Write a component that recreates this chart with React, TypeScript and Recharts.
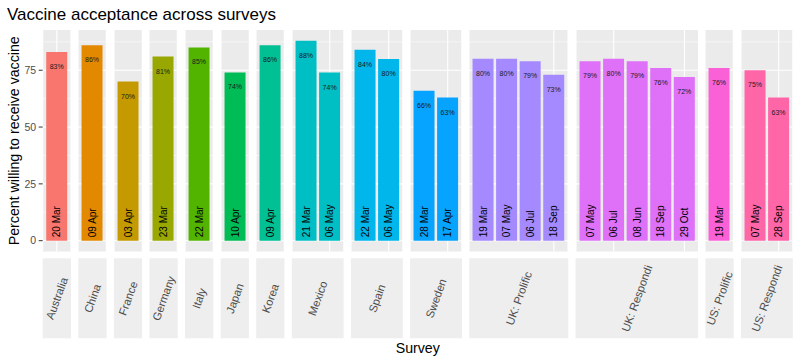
import { Bar, BarChart, CartesianGrid, LabelList, XAxis, YAxis } from 'recharts';

const surveys = [
  'Australia', 'China', 'France', 'Germany', 'Italy', 'Japan', 'Korea',
  'Mexico', 'Spain', 'Sweden', 'UK: Prolific', 'UK: Respondi', 'US: Prolific', 'US: Respondi',
];

const surveyDates: string[][] = [
  ['20 Mar'],
  ['09 Apr'],
  ['03 Apr'],
  ['23 Mar'],
  ['22 Mar'],
  ['10 Apr'],
  ['09 Apr'],
  ['21 Mar', '06 May'],
  ['22 Mar', '06 May'],
  ['28 Mar', '17 Apr'],
  ['19 Mar', '07 May', '06 Jul', '18 Sep'],
  ['07 May', '06 Jul', '08 Jun', '18 Sep', '29 Oct'],
  ['19 Mar'],
  ['07 May', '28 Sep'],
];

const acceptance: number[][] = [
  [83],
  [86],
  [70],
  [81],
  [85],
  [74],
  [86],
  [88, 74],
  [84, 80],
  [66, 63],
  [80, 80, 79, 73],
  [79, 80, 79, 76, 72],
  [76],
  [75, 63],
];

const yTicks = [0, 25, 50, 75];
const yMinor = [12.5, 37.5, 62.5, 87.5];

// ggplot hue palette, 14 levels
const palette = [
  '#F8766D', '#E38900', '#C49A00', '#99A800', '#53B400', '#00BC56', '#00C094',
  '#00BFC4', '#00B6EB', '#06A4FF', '#A58AFF', '#DF70F8', '#FB61D7', '#FF66A8',
];

const PANEL_LEFT = 42.7;
const PANEL_TOP = 30;
const PANEL_H = 221.5;
const UNIT = 23.57;
const GAP = 7.3;
const STRIP_TOP = 258.3;
const STRIP_H = 80;
const Y_DOMAIN: [number, number] = [-4.75, 92.7];
const FONT = '"Liberation Sans", Arial, sans-serif';

const widths = surveyDates.map((d) => (d.length + 0.2) * UNIT);
const lefts = widths.map((_, i) => PANEL_LEFT + widths.slice(0, i).reduce((s, w) => s + w + GAP, 0));

const PctLabel = (props: any) => {
  const { x, y, width, value } = props;
  return (
    <text
      x={x + width / 2}
      y={y + 14.5}
      textAnchor="middle"
      dominantBaseline="central"
      fontSize={7}
      fill="#1a1a1a"
      fontFamily={FONT}
    >
      {Math.round(value)}%
    </text>
  );
};

const DateLabel = (props: any) => {
  const { x, y, width, height, value } = props;
  const cx = x + width / 2;
  const by = y + height - 3.5;
  return (
    <text
      transform={`translate(${cx},${by}) rotate(-90)`}
      textAnchor="start"
      dominantBaseline="central"
      fontSize={10}
      fill="#000"
      fontFamily={FONT}
    >
      {value}
    </text>
  );
};

function Facet({ idx }: { idx: number }) {
  const data = surveyDates[idx].map((date, i) => ({ date, value: acceptance[idx][i] }));
  const axis = idx === 0;
  const pad = 0.1 * UNIT;
  return (
    <div style={{ position: 'absolute', left: axis ? 0 : lefts[idx], top: PANEL_TOP }}>
      <BarChart
        width={widths[idx] + (axis ? PANEL_LEFT : 0)}
        height={PANEL_H}
        data={data}
        margin={{ top: 0, right: 0, bottom: 0, left: 0 }}
        barCategoryGap="5%"
      >
        <CartesianGrid
          horizontalValues={yTicks}
          stroke="#fff"
          strokeWidth={1.1}
          fill="#EBEBEB"
          fillOpacity={1}
        />
        <CartesianGrid horizontalValues={yMinor} vertical={false} stroke="#fff" strokeWidth={0.55} />
        <XAxis dataKey="date" hide padding={{ left: pad, right: pad }} />
        <YAxis
          domain={Y_DOMAIN}
          allowDataOverflow
          ticks={yTicks}
          hide={!axis}
          width={PANEL_LEFT}
          axisLine={false}
          tickLine={{ stroke: '#333333' }}
          tickSize={4}
          tickMargin={2.5}
          tick={{ fontSize: 10.5, fill: '#4D4D4D', fontFamily: FONT }}
        />
        <Bar dataKey="value" fill={palette[idx]} isAnimationActive={false}>
          <LabelList dataKey="value" content={PctLabel} />
          <LabelList dataKey="date" content={DateLabel} />
        </Bar>
      </BarChart>
    </div>
  );
}

export default function App() {
  return (
    <div
      style={{
        position: 'absolute',
        left: 0,
        top: 0,
        width: 800,
        height: 363,
        background: '#fff',
        fontFamily: FONT,
        overflow: 'hidden',
      }}
    >
      {surveys.map((_, i) => (
        <Facet key={i} idx={i} />
      ))}
      <svg width={800} height={363} style={{ position: 'absolute', left: 0, top: 0, pointerEvents: 'none' }}>
        <text x={7} y={20} fontSize={17} fill="#000" fontFamily={FONT}>
          Vaccine acceptance across surveys
        </text>
        <text
          transform={`translate(13.5,${PANEL_TOP + PANEL_H / 2}) rotate(-90)`}
          textAnchor="middle"
          dominantBaseline="central"
          fontSize={14.2}
          fill="#000"
          fontFamily={FONT}
        >
          Percent willing to receive vaccine
        </text>
        {surveys.map((s, i) => (
          <g key={s}>
            <rect x={lefts[i]} y={STRIP_TOP} width={widths[i]} height={STRIP_H} fill="#EEEEEE" />
            <text
              transform={`translate(${lefts[i] + widths[i] / 2},${STRIP_TOP + STRIP_H / 2}) rotate(-70)`}
              textAnchor="middle"
              dominantBaseline="central"
              fontSize={11.3}
              fill="#4D4D4D"
              fontFamily={FONT}
            >
              {s}
            </text>
          </g>
        ))}
        <text
          x={(PANEL_LEFT + lefts[13] + widths[13]) / 2}
          y={348}
          textAnchor="middle"
          dominantBaseline="central"
          fontSize={14.2}
          fill="#000"
          fontFamily={FONT}
        >
          Survey
        </text>
      </svg>
    </div>
  );
}
